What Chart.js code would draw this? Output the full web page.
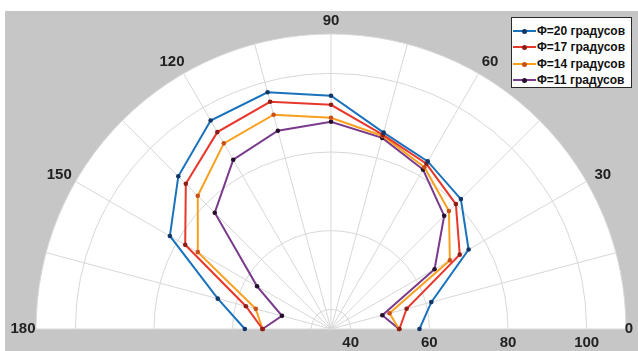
<!DOCTYPE html>
<html><head><meta charset="utf-8">
<script src="https://cdn.jsdelivr.net/npm/chart.js@4.4.1/dist/chart.umd.min.js"></script>
<style>
html,body{margin:0;padding:0;background:#fff;}
#wrap{position:relative;width:638px;height:351px;overflow:hidden;background:#fff;}
#c{position:absolute;left:0;top:0;}
#legend{position:absolute;left:511px;top:17px;width:121px;height:71px;background:#fff;border:1px solid #2a2a2a;box-sizing:border-box;font:bold 12px "Liberation Sans",Arial,sans-serif;color:#111;}
.row{position:absolute;left:1px;height:14px;display:flex;align-items:center;white-space:nowrap;}
.sw{position:relative;width:23px;height:14px;margin-right:1px;}
.sw .ln{position:absolute;left:0;right:0;top:6px;height:2px;}
.sw .dt{position:absolute;left:9px;top:5px;width:5px;height:5px;border-radius:50%;}
</style></head>
<body><div id="wrap"><canvas id="c" width="638" height="630"></canvas><div id="legend"></div></div>
<script>
// ---- data ----
const thetaDeg = [0,15,30,45,60,75,90,105,120,135,150,165,180];
const seriesLabels = ['Φ=20 градусов','Φ=17 градусов','Φ=14 градусов','Φ=11 градусов'];
const phi20 = [57.5,61.4,75.4,81.7,84.2,86.7,94.3,97.3,96.2,89.9,82.3,64.8,56.9];
const phi17 = [52.4,54.9,72.8,79.9,83.5,86.1,92.0,94.8,92.8,87.2,77.8,57.4,52.4];
const phi14 = [52.3,50.4,69.9,77.4,82.5,85.8,88.7,91.4,89.5,82.9,74.1,54.8,52.4];
const phi11 = [52.3,48.5,65.4,75.7,81.8,85.3,87.7,87.2,84.7,76.8,56.7,47.9,52.4];
const rTicks = [40,60,80,100];
const thetaTicks = [0,30,60,90,120,150,180];
const rMin = 35, rMax = 110;

// ---- style ----
const GRAY = '#c6c6c6';
const lineColors = ['#1a72bd','#e8382b','#f8a01e','#7a3a8c'];
const markColors = ['#123766','#8e1d15','#c9501a','#26102c'];

// radar categories: clockwise from the left (180°) through the top to the right (0°) and on round the unused lower half
const angleLabels = [];
for (let i = 0; i < 24; i++) angleLabels.push(180 - 15 * i);
function toRadar(vals) {
  return angleLabels.map(a => { const k = thetaDeg.indexOf(a); return k >= 0 ? vals[k] : null; });
}
const allSeries = [phi20, phi17, phi14, phi11];

const polarPlugin = {
  id: 'halfPolar',
  beforeDraw(chart) {
    const c = chart.ctx, s = chart.scales.r;
    c.save();
    c.fillStyle = '#fff'; c.fillRect(0, 0, chart.width, chart.height);
    c.fillStyle = GRAY; c.fillRect(5, 11, chart.width - 5, chart.height - 11);
    c.beginPath();
    c.arc(s.xCenter, s.yCenter, s.drawingArea, Math.PI, 2 * Math.PI);
    c.closePath();
    c.fillStyle = '#fff'; c.fill();
    c.restore();
  },
  beforeDatasetsDraw(chart) {
    const c = chart.ctx, s = chart.scales.r;
    c.save();
    c.fillStyle = GRAY;
    c.fillRect(5, s.yCenter + 1, chart.width - 5, chart.height);
    c.restore();
  },
  afterDraw(chart) {
    const c = chart.ctx, s = chart.scales.r;
    c.save();
    c.font = 'bold 15px "Liberation Sans", Arial, sans-serif';
    c.fillStyle = '#222';
    c.textAlign = 'center';
    c.textBaseline = 'middle';
    rTicks.forEach(v => {
      c.fillText(String(v), s.xCenter + s.getDistanceFromCenterForValue(v), s.yCenter + 14);
    });
    thetaTicks.forEach(a => {
      const idx = angleLabels.indexOf(a);
      const p = s.getPointPosition(idx, s.drawingArea + 13);
      let x = p.x;
      const cs = Math.cos(p.angle), sn = Math.sin(p.angle);
      if (Math.abs(sn) > 0.1 && Math.abs(cs) > 0.1) x += 5 * Math.sign(cs);
      x = Math.min(629, Math.max(22, x));
      c.fillText(String(a), x, p.y);
    });
    c.restore();
  }
};

new Chart(document.getElementById('c').getContext('2d'), {
  type: 'radar',
  data: {
    labels: angleLabels,
    datasets: allSeries.map((vals, i) => ({
      label: seriesLabels[i],
      data: toRadar(vals),
      borderColor: lineColors[i],
      backgroundColor: lineColors[i],
      pointBackgroundColor: markColors[i],
      pointBorderColor: markColors[i],
      borderWidth: 2,
      pointRadius: 2.3,
      pointBorderWidth: 0,
      fill: false,
      spanGaps: false,
      tension: 0
    }))
  },
  options: {
    responsive: false,
    animation: false,
    devicePixelRatio: 1,
    layout: { padding: { left: 36, right: 12, top: 34, bottom: 6 } },
    plugins: { legend: { display: false }, tooltip: { enabled: false } },
    scales: {
      r: {
        min: rMin, max: rMax,
        startAngle: -90,
        afterBuildTicks: sc => { sc.ticks = [rMin, ...rTicks, rMax].map(v => ({ value: v })); },
        ticks: { display: false },
        pointLabels: { display: false },
        grid: { circular: true, color: '#d8d8d8', lineWidth: 1 },
        angleLines: { display: true, color: '#d8d8d8', lineWidth: 1 }
      }
    }
  },
  plugins: [polarPlugin]
});

// legend
const lg = document.getElementById('legend');
const rowTops = [5.5, 22, 38.5, 55];
seriesLabels.forEach((t, i) => {
  const r = document.createElement('div');
  r.className = 'row';
  r.style.top = rowTops[i] + 'px';
  r.innerHTML = '<div class="sw"><div class="ln" style="background:' + lineColors[i] + '"></div><div class="dt" style="background:' + markColors[i] + '"></div></div><span>' + t + '</span>';
  lg.appendChild(r);
});
</script>
</body></html>
